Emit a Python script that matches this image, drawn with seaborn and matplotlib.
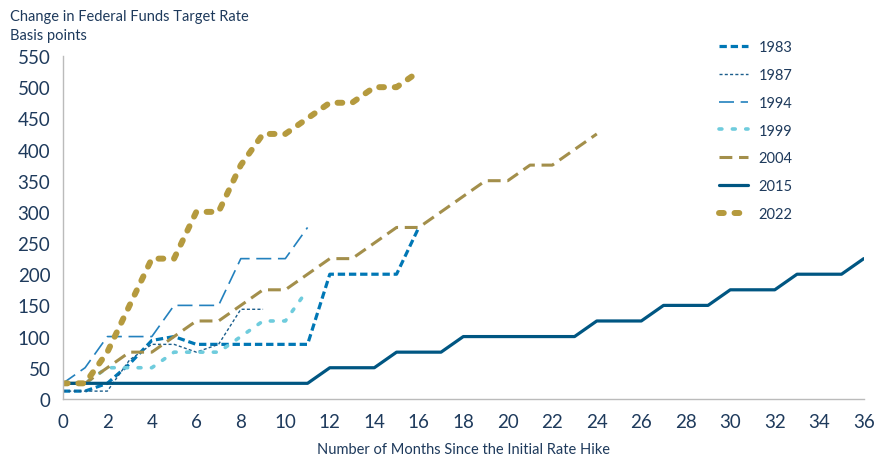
import numpy as np
import pandas as pd
import matplotlib
matplotlib.use('Agg')
import matplotlib.pyplot as plt
import seaborn as sns

# Cumulative change in fed funds target rate (bp) by month since first hike
y1983 = [12.5, 12.5, 25, 56.25, 93.75, 100, 87.5, 87.5, 87.5, 87.5, 87.5, 87.5,
         200, 200, 200, 200, 275]
y1987 = [12.5, 12.5, 12.5, 62.5, 87.5, 87.5, 75, 87.5, 143.75, 143.75]
y1994 = [25, 50, 100, 100, 100, 150, 150, 150, 225, 225, 225, 275]
y1999 = [25, 25, 50, 50, 50, 75, 75, 75, 100, 125, 125, 175]
y2004 = [25, 25, 50, 75, 75, 100, 125, 125, 150, 175, 175, 200, 225, 225, 250,
         275, 275, 300, 325, 350, 350, 375, 375, 400, 425]
y2015 = [25, 25, 25, 25, 25, 25, 25, 25, 25, 25, 25, 25, 50, 50, 50, 75, 75, 75,
         100, 100, 100, 100, 100, 100, 125, 125, 125, 150, 150, 150, 175, 175,
         175, 200, 200, 200, 225]
y2022 = [25, 25, 75, 150, 225, 225, 300, 300, 375, 425, 425, 450, 475, 475,
         500, 500, 525]

series = {'1983': y1983, '1987': y1987, '1994': y1994, '1999': y1999,
          '2004': y2004, '2015': y2015, '2022': y2022}

styles = {
    '1983': dict(color='#0077B5', lw=2.3, ls=(0, (2.3, 1.2))),
    '1987': dict(color='#1B5E8C', lw=1.0, ls=(0, (2.2, 1.6))),
    '1994': dict(color='#2381BE', lw=1.2, ls=(0, (9, 4))),
    '1999': dict(color='#6FCCDD', lw=2.6, ls=(0, (0.8, 2.9))),
    '2004': dict(color='#A38F4B', lw=2.2, ls=(0, (4.2, 2.2))),
    '2015': dict(color='#005682', lw=2.3, ls='-'),
    '2022': dict(color='#B59A3E', lw=4.3, ls=(0, (0.8, 1.8))),
}

text_color = '#1E3A5C'
sns.set_style('white')
plt.rcParams['font.family'] = ['Lato', 'DejaVu Sans']

fig = plt.figure(figsize=(8.85, 4.56), dpi=100)
ax = fig.add_axes([0.071, 0.123, 0.905, 0.752])

for name, vals in series.items():
    st = styles[name]
    df = pd.DataFrame({'month': np.arange(len(vals)), 'bp': vals})
    sns.lineplot(data=df, x='month', y='bp', ax=ax, color=st['color'],
                 linewidth=st['lw'], linestyle=st['ls'], label=name,
                 dash_capstyle='round' if name in ('1999', '2022') else 'butt')

ax.set_xlim(0, 36)
ax.set_ylim(0, 550)
ax.set_xticks(np.arange(0, 37, 2))
ax.set_xticks(np.arange(0, 37, 1), minor=True)
ax.set_yticks(np.arange(0, 551, 50))
ax.tick_params(axis='both', colors='#BBBBBB', labelcolor=text_color, labelsize=13.5)
ax.tick_params(axis='x', which='both', direction='out', length=5, width=1, pad=5)
ax.tick_params(axis='y', direction='out', length=5, width=1, pad=4)
for side in ('top', 'right'):
    ax.spines[side].set_visible(False)
for side in ('left', 'bottom'):
    ax.spines[side].set_color('#BBBBBB')
    ax.spines[side].set_linewidth(1)

ax.set_xlabel('Number of Months Since the Initial Rate Hike', fontsize=10.5,
              color=text_color, labelpad=9)
ax.set_ylabel('')
fig.text(0.011, 0.962, 'Change in Federal Funds Target Rate', fontsize=10.5,
         color=text_color, va='center')
fig.text(0.011, 0.920, 'Basis points', fontsize=10.5, color=text_color, va='center')

leg = ax.legend(loc='upper left', bbox_to_anchor=(0.803, 1.085), frameon=False,
                fontsize=10.5, handlelength=2.0, labelspacing=0.95,
                handletextpad=0.7, labelcolor=text_color)

fig.savefig('out.png', dpi=100)
